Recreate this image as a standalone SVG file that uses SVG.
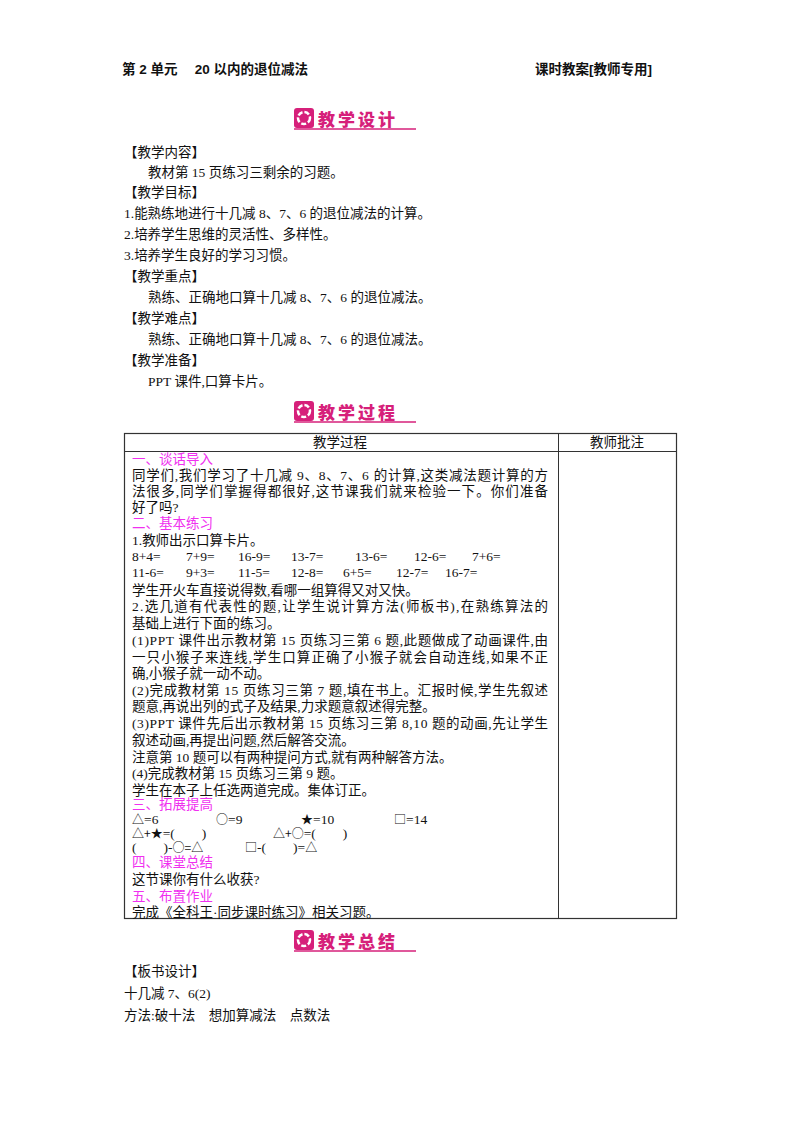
<svg xmlns="http://www.w3.org/2000/svg" width="800" height="1132" viewBox="0 0 800 1132">
<style>
text{font-family:"Liberation Serif","Noto Sans CJK SC",serif;font-size:13.5px;fill:#111}
.b{font-weight:bold;font-family:"Liberation Sans","Noto Sans CJK SC",sans-serif}
.p{fill:#f030f0}
.s{font-family:"Noto Sans CJK SC",sans-serif;font-size:12px}
.bt{font-family:"Noto Sans CJK SC",sans-serif;font-weight:900;font-size:17px;fill:#d6207a;letter-spacing:3px}
</style>
<defs>
<g id="badge">
<rect x="0" y="0" width="20" height="20" rx="3" fill="#d6207a"/>
<circle cx="10" cy="10" r="6" fill="none" stroke="#fff" stroke-width="2.5" stroke-dasharray="5 2"/>
<line x1="0" y1="21" x2="122" y2="21" stroke="#d6207a" stroke-width="1.5"/>
</g>
</defs>
<rect width="800" height="1132" fill="#fff"/>
<text x="122" y="74" class="b">第 2 单元　 20 以内的退位减法</text>
<text x="535" y="74" class="b">课时教案[教师专用]</text>

<g id="badge1"><use href="#badge" x="294" y="108"/><text x="318" y="126" class="bt">教学设计</text></g>
<g id="design">
<text x="124" y="157">【教学内容】</text>
<text x="148" y="177">教材第 15 页练习三剩余的习题。</text>
<text x="124" y="197">【教学目标】</text>
<text x="124" y="218">1.能熟练地进行十几减 8、7、6 的退位减法的计算。</text>
<text x="124" y="239">2.培养学生思维的灵活性、多样性。</text>
<text x="124" y="260">3.培养学生良好的学习习惯。</text>
<text x="124" y="281">【教学重点】</text>
<text x="148" y="302">熟练、正确地口算十几减 8、7、6 的退位减法。</text>
<text x="124" y="323">【教学难点】</text>
<text x="148" y="344">熟练、正确地口算十几减 8、7、6 的退位减法。</text>
<text x="124" y="365">【教学准备】</text>
<text x="148" y="386">PPT 课件,口算卡片。</text>
</g>

<g id="badge2"><use href="#badge" x="294" y="401"/><text x="318" y="419" class="bt">教学过程</text></g>
<g id="table" fill="none" stroke="#333">
<rect x="124.5" y="433.5" width="552" height="485" stroke-width="1.2" fill="none"/>
<line x1="558.5" y1="433" x2="558.5" y2="918"/>
<line x1="124" y1="451.5" x2="676" y2="451.5"/>
</g>
<text x="340" y="447" text-anchor="middle">教学过程</text>
<text x="617" y="447" text-anchor="middle">教师批注</text>
<g id="process">
<text x="132" y="464" class="p">一、谈话导入</text>
<text x="132" y="480" textLength="416">同学们,我们学习了十几减 9、8、7、6 的计算,这类减法题计算的方</text>
<text x="132" y="496" textLength="416">法很多,同学们掌握得都很好,这节课我们就来检验一下。你们准备</text>
<text x="132" y="512">好了吗?</text>
<text x="132" y="528" class="p">二、基本练习</text>
<text x="132" y="545">1.教师出示口算卡片。</text>
<text y="561"><tspan x="132">8+4=</tspan><tspan x="186">7+9=</tspan><tspan x="238">16-9=</tspan><tspan x="291">13-7=</tspan><tspan x="355">13-6=</tspan><tspan x="414">12-6=</tspan><tspan x="472">7+6=</tspan></text>
<text y="577"><tspan x="132">11-6=</tspan><tspan x="186">9+3=</tspan><tspan x="238">11-5=</tspan><tspan x="291">12-8=</tspan><tspan x="343">6+5=</tspan><tspan x="396">12-7=</tspan><tspan x="445">16-7=</tspan></text>
<text x="132" y="595">学生开火车直接说得数,看哪一组算得又对又快。</text>
<text x="132" y="611" textLength="416">2.选几道有代表性的题,让学生说计算方法(师板书),在熟练算法的</text>
<text x="132" y="628">基础上进行下面的练习。</text>
<text x="132" y="645" textLength="416">(1)PPT 课件出示教材第 15 页练习三第 6 题,此题做成了动画课件,由</text>
<text x="132" y="662" textLength="416">一只小猴子来连线,学生口算正确了小猴子就会自动连线,如果不正</text>
<text x="132" y="678">确,小猴子就一动不动。</text>
<text x="132" y="695" textLength="416">(2)完成教材第 15 页练习三第 7 题,填在书上。汇报时候,学生先叙述</text>
<text x="132" y="711">题意,再说出列的式子及结果,力求题意叙述得完整。</text>
<text x="132" y="728" textLength="416">(3)PPT 课件先后出示教材第 15 页练习三第 8,10 题的动画,先让学生</text>
<text x="132" y="745">叙述动画,再提出问题,然后解答交流。</text>
<text x="132" y="762">注意第 10 题可以有两种提问方式,就有两种解答方法。</text>
<text x="132" y="778">(4)完成教材第 15 页练习三第 9 题。</text>
<text x="132" y="795">学生在本子上任选两道完成。集体订正。</text>
<text x="132" y="809" class="p">三、拓展提高</text>
<text y="824"><tspan x="132" class="s">△</tspan><tspan>=6</tspan><tspan x="216" class="s">○</tspan><tspan>=9</tspan><tspan x="301" class="s">★</tspan><tspan>=10</tspan><tspan x="394" class="s">□</tspan><tspan>=14</tspan></text>
<text y="838"><tspan x="132" class="s">△+★</tspan><tspan>=(　　)</tspan><tspan x="273" class="s">△+○</tspan><tspan>=(　　)</tspan></text>
<text y="852"><tspan x="132">(　　)-</tspan><tspan class="s">○=△</tspan><tspan x="245" class="s">□</tspan><tspan>-(　　)=</tspan><tspan class="s">△</tspan></text>
<text x="132" y="867" class="p">四、课堂总结</text>
<text x="132" y="884">这节课你有什么收获?</text>
<text x="132" y="901" class="p">五、布置作业</text>
<text x="132" y="917">完成《全科王·同步课时练习》相关习题。</text>
</g>

<g id="badge3"><use href="#badge" x="294" y="930"/><text x="318" y="948" class="bt">教学总结</text></g>
<g id="summary">
<text x="124" y="976">【板书设计】</text>
<text x="124" y="998">十几减 7、6(2)</text>
<text x="124" y="1020">方法:破十法　想加算减法　点数法</text>
</g>
</svg>
